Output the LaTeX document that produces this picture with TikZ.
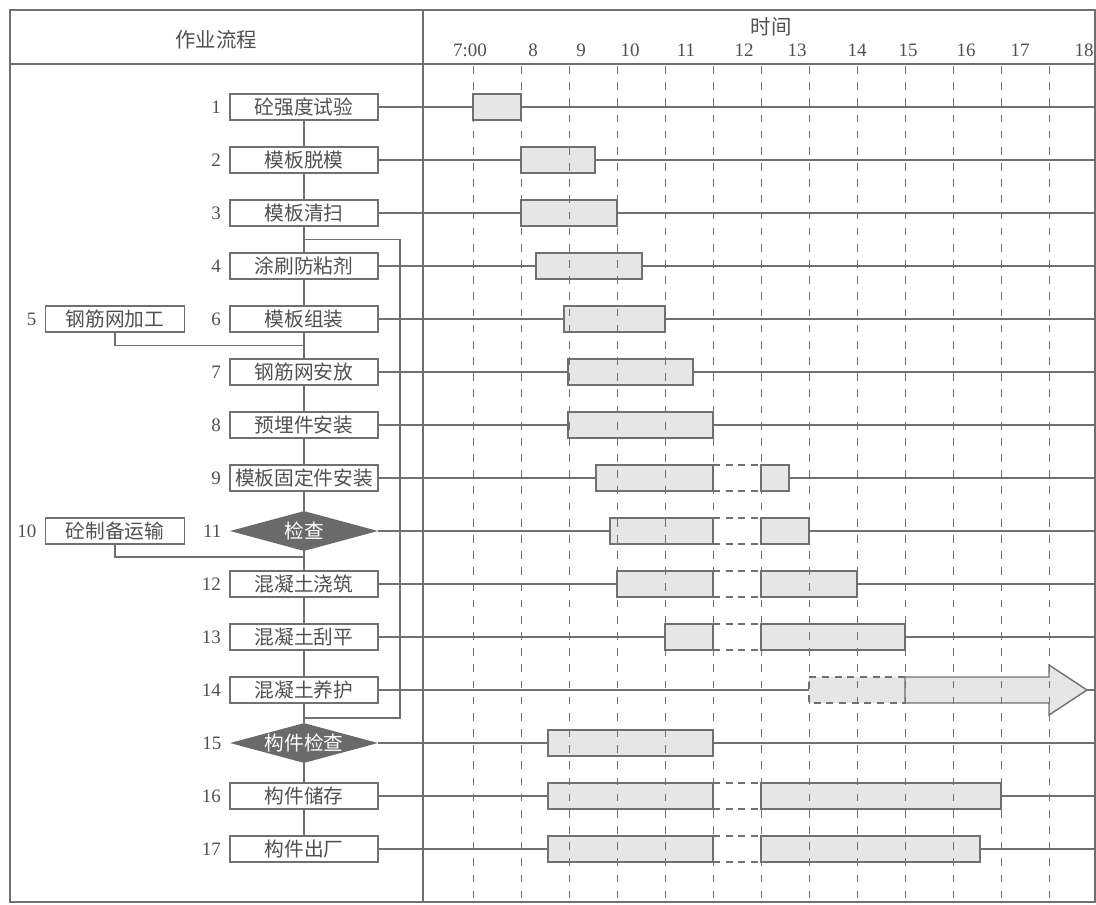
\documentclass[tikz,border=0pt]{standalone}
\usepackage{fontspec}
\setmainfont{Liberation Serif}
\newfontfamily\cjk{Noto Sans CJK SC}
\usetikzlibrary{positioning, calc, shapes.geometric}
\definecolor{linegray}{HTML}{707070}
\definecolor{textgray}{HTML}{505050}
\definecolor{barfill}{HTML}{E6E6E6}
\definecolor{darkfill}{HTML}{6A6A6A}

\tikzset{
  task/.style={draw=linegray, line width=1.1pt, fill=white, minimum width=3.7cm,
    minimum height=0.65cm, inner sep=0pt, text=textgray,
    font={\fontsize{14}{16}\selectfont\cjk}},
  sidetask/.style={task, minimum width=3.475cm},
  check/.style={diamond, fill=darkfill, aspect=3.7, minimum width=3.7cm,
    minimum height=1cm, inner sep=0pt, text=white,
    font={\fontsize{14}{16}\selectfont\cjk}},
  num/.style={inner sep=0pt, text=textgray, font=\fontsize{13.5}{15}\selectfont},
  head/.style={inner sep=0pt, text=textgray, font={\fontsize{14.5}{16}\selectfont\cjk}},
  flow/.style={draw=linegray, line width=0.9pt},
  frame/.style={draw=linegray, line width=1.9pt},
  bar/.style={draw=linegray, line width=1pt, fill=barfill},
  gapedge/.style={draw=linegray, line width=1pt, dash pattern=on 5pt off 4pt},
  hourline/.style={draw=linegray, line width=0.7pt, dash pattern=on 5.5pt off 6pt}
}

\begin{document}
\begin{tikzpicture}[x=0.025cm, y=-0.025cm]
  \useasboundingbox (0,0) rectangle (1096,904);
  % header
  \node[head] (hflow) at (216,40) {作业流程};
  \node[head] (htime) at (771,27) {时间};
  \foreach \x/\h [count=\i] in {470/7:00, 533/8, 581/9, 630/10, 686/11, 744/12,
      797/13, 857/14, 908/15, 966/16, 1020/17, 1084/18}
    \node[num] (hour\i) at (\x,50) {\h};
  % process column
  \node[task] (b1) at (304,107) {砼强度试验};
  \node[task] (b2) at (304,160) {模板脱模};
  \node[task] (b3) at (304,213) {模板清扫};
  \node[task] (b4) at (304,266) {涂刷防粘剂};
  \node[task] (b6) at (304,319) {模板组装};
  \node[sidetask] (b5) at (115,319) {钢筋网加工};
  \node[task] (b7) at (304,372) {钢筋网安放};
  \node[task] (b8) at (304,425) {预埋件安装};
  \node[task] (b9) at (304,478) {模板固定件安装};
  \node[check] (b11) at (304,531) {\makebox[0pt]{检查}};
  \node[sidetask] (b10) at (115,531) {砼制备运输};
  \node[task] (b12) at (304,584) {混凝土浇筑};
  \node[task] (b13) at (304,637) {混凝土刮平};
  \node[task] (b14) at (304,690) {混凝土养护};
  \node[check] (b15) at (304,743) {\makebox[0pt]{构件检查}};
  \node[task] (b16) at (304,796) {构件储存};
  \node[task] (b17) at (304,849) {构件出厂};
  \foreach \n in {1,...,17}
    \node[num, left=0.2cm of b\n] (n\n) {\n};
  % links
  \foreach \a/\b in {1/2,2/3,3/4,4/6,6/7,7/8,8/9,9/11,11/12,12/13,13/14,14/15,15/16,16/17}
    \draw[flow] (b\a.south) -- (b\b.north);
  \draw[flow] (b5.south) |- ($(b6.south)!0.5!(b7.north)$);
  \draw[flow] (b10.south) |- ($(b11.south)!0.3!(b12.north)$);
  \coordinate (j34) at ($(b3.south)!0.5!(b4.north)$);
  \coordinate (j1415) at ($(b14.south)!0.75!(b15.north)$);
  \coordinate (loop) at (400,0);
  \draw[flow] (j34) -| (loop |- j1415) -- (j1415);
  % row lines
  \coordinate (rim) at (1095,0);
  \foreach \n in {1,2,3,4,6,7,8,9,11,12,13,14,15,16,17}
    \draw[flow] (b\n.east) -- (b\n.east -| rim);
  % bars
  \foreach \y/\a/\b in {107/473/521, 160/521/595, 213/521/617, 266/536/642,
      319/564/665, 372/568/693, 425/568/713, 478/596/713, 531/610/713,
      584/617/713, 637/665/713, 743/548/713, 796/548/713, 849/548/713}
    \draw[bar] (\a,\y-13) rectangle (\b,\y+13);
  \foreach \y/\b in {478/789, 531/809, 584/857, 637/905, 796/1001, 849/980} {
    \draw[bar] (761,\y-13) rectangle (\b,\y+13);
    \fill[white] (714,\y-12) rectangle (760,\y+12);
    \draw[gapedge] (713,\y-13) -- (761,\y-13) (713,\y+13) -- (761,\y+13);
  }
  % curing
  \fill[barfill] (809,677) rectangle (905,703);
  \draw[gapedge] (905,677) -- (809,677) -- (809,703) -- (905,703);
  \draw[bar] (905,677) -- (1049,677) -- (1049,665) -- (1087,690) -- (1049,715)
    -- (1049,703) -- (905,703) -- cycle;
  % hour grid
  \foreach \i in {0,...,12}
    \draw[hourline] ({473+48*\i},66) -- ({473+48*\i},901);
  % frame
  \draw[frame] (10,10) rectangle (1095,902);
  \draw[frame] (10,64) -- (1095,64);
  \draw[frame] (423,10) -- (423,902);
\end{tikzpicture}
\end{document}
